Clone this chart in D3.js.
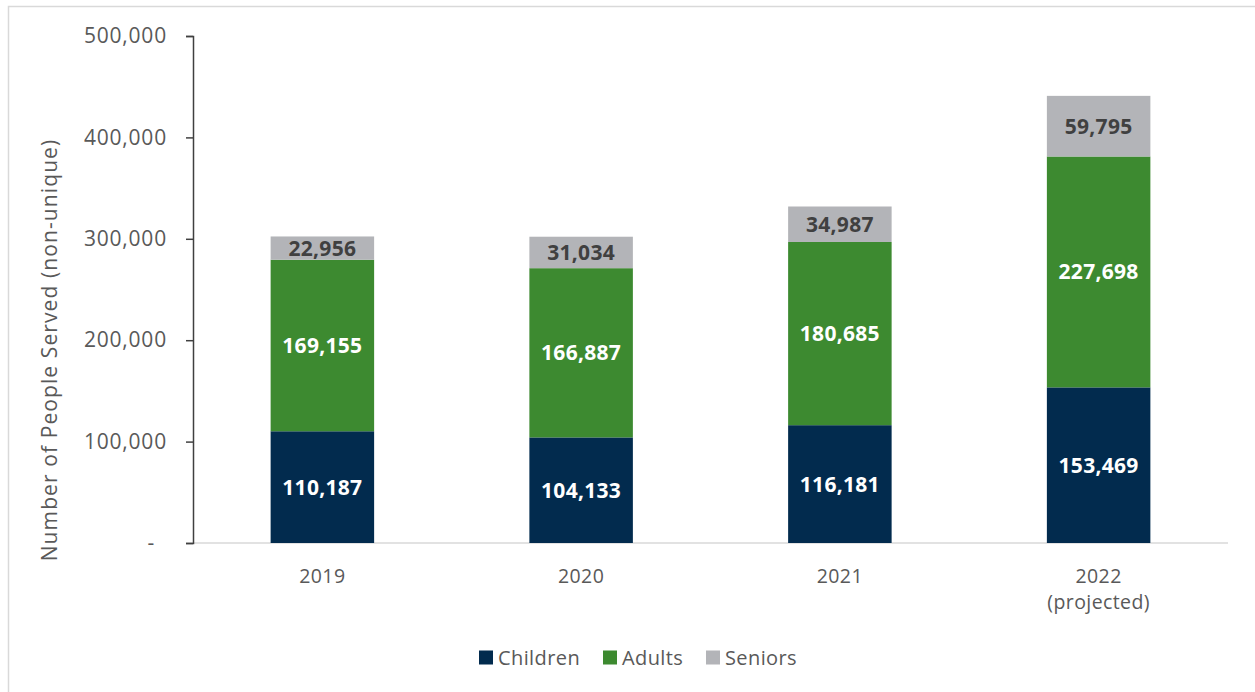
<!DOCTYPE html>
<html>
<head>
<meta charset="utf-8">
<script src="https://cdn.jsdelivr.net/npm/d3@7/dist/d3.min.js"></script>
<style>
  html, body { margin: 0; padding: 0; background: #fff; }
  svg { display: block; font-family: "Open Sans", "Noto Sans", sans-serif; }
</style>
</head>
<body>
<svg id="chart" width="1255" height="692"></svg>
<script>
// Number of people served per year, split by age group
const years = ["2019", "2020", "2021", "2022"];
const yearNotes = ["", "", "", "(projected)"];
const children = [110187, 104133, 116181, 153469];
const adults = [169155, 166887, 180685, 227698];
const seniors = [22956, 31034, 34987, 59795];
const seriesNames = ["Children", "Adults", "Seniors"];
const yTicks = [0, 100000, 200000, 300000, 400000, 500000];

const colors = { Children: "#022b4e", Adults: "#3d8a30", Seniors: "#b3b4b8" };
const labelColors = { Children: "#ffffff", Adults: "#ffffff", Seniors: "#404040" };
const textGrey = "#595959";

const svg = d3.select("#chart");

// outer frame of the chart area
svg.append("rect")
  .attr("x", 8.5).attr("y", 6.5)
  .attr("width", 1260).attr("height", 700)
  .attr("fill", "none").attr("stroke", "#d9d9d9").attr("stroke-width", 1.5);

const plot = { left: 193, right: 1228, top: 36, bottom: 543 };

const x = d3.scaleBand().domain(years).range([plot.left, plot.right]).paddingInner(0.6).paddingOuter(0.3);
const y = d3.scaleLinear().domain([0, 500000]).range([plot.bottom, plot.top]);

const rows = years.map((yr, i) => ({ year: yr, Children: children[i], Adults: adults[i], Seniors: seniors[i] }));
const stacked = d3.stack().keys(seriesNames)(rows);

// x baseline
svg.append("line")
  .attr("x1", plot.left).attr("x2", plot.right)
  .attr("y1", y(0)).attr("y2", y(0))
  .attr("stroke", "#d9d9d9").attr("stroke-width", 1.5);

// bars
const groups = svg.append("g").selectAll("g").data(stacked).join("g")
  .attr("fill", d => colors[d.key]);

groups.selectAll("rect").data(d => d.map(v => ({ key: d.key, v }))).join("rect")
  .attr("x", d => x(d.v.data.year))
  .attr("width", x.bandwidth())
  .attr("y", d => y(d.v[1]))
  .attr("height", d => y(d.v[0]) - y(d.v[1]));

// value labels inside segments
const fmt = d3.format(",");
groups.selectAll("text").data(d => d.map(v => ({ key: d.key, v }))).join("text")
  .attr("x", d => x(d.v.data.year) + x.bandwidth() / 2)
  .attr("y", d => (y(d.v[0]) + y(d.v[1])) / 2)
  .attr("dy", "0.36em")
  .attr("text-anchor", "middle")
  .attr("font-size", 21)
  .attr("font-weight", "bold")
  .attr("letter-spacing", 0.3)
  .attr("fill", d => labelColors[d.key])
  .text(d => fmt(d.v[1] - d.v[0]));

// y axis
const yAxis = d3.axisLeft(y).tickValues(yTicks).tickSize(7).tickPadding(19)
  .tickFormat(d => d === 0 ? "-" : fmt(d));
const yg = svg.append("g").attr("transform", `translate(${plot.left},0)`).call(yAxis);
yg.select(".domain").attr("stroke", "#404040").attr("stroke-width", 1.5);
yg.selectAll(".tick line").attr("stroke", "#404040").attr("stroke-width", 1.5);
yg.selectAll(".tick text").attr("font-size", 21).attr("fill", textGrey)
  .attr("letter-spacing", 0.8)
  .attr("font-family", "Open Sans, sans-serif")
  .attr("dx", d => d === 0 ? -12 : 0);

// x axis labels: year, plus an optional note on a second line
const xg = svg.append("g").attr("fill", textGrey).attr("font-size", 19.5)
  .attr("letter-spacing", 0.4).attr("text-anchor", "middle");
xg.selectAll("text.year").data(years).join("text")
  .attr("class", "year")
  .attr("x", d => x(d) + x.bandwidth() / 2)
  .attr("y", 583)
  .text(d => d);
xg.selectAll("text.note").data(years.filter((d, i) => yearNotes[i])).join("text")
  .attr("class", "note")
  .attr("x", d => x(d) + x.bandwidth() / 2)
  .attr("y", 609)
  .text(d => yearNotes[years.indexOf(d)]);

// y axis title
svg.append("text")
  .attr("transform", `translate(57,350) rotate(-90)`)
  .attr("text-anchor", "middle")
  .attr("font-size", 21)
  .attr("letter-spacing", 1.1)
  .attr("fill", textGrey)
  .text("Number of People Served (non-unique)");

// legend
const legendX = [479, 603, 706];
const lg = svg.append("g").selectAll("g").data(seriesNames).join("g")
  .attr("transform", (d, i) => `translate(${legendX[i]},657.5)`);
lg.append("rect").attr("x", 0).attr("y", -7).attr("width", 14).attr("height", 14)
  .attr("fill", d => colors[d]);
lg.append("text").attr("x", 19).attr("dy", "0.36em")
  .attr("font-size", 20).attr("letter-spacing", 0.4)
  .attr("fill", textGrey).text(d => d);
</script>
</body>
</html>
